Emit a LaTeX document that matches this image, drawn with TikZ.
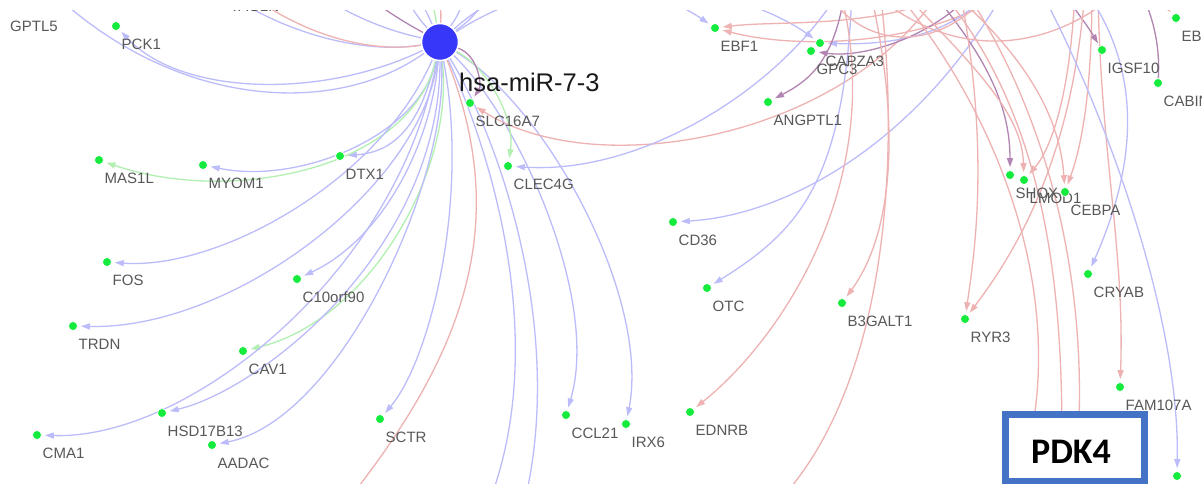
\documentclass[tikz,border=0pt]{standalone}
\usepackage{fontspec}
\setmainfont{Liberation Sans}
\newfontfamily\calfont{Carlito}
\usetikzlibrary{arrows.meta}
\definecolor{dotgreen}{RGB}{20,235,60}
\definecolor{hubblue}{RGB}{55,55,250}
\definecolor{eblue}{RGB}{188,188,250}
\definecolor{ered}{RGB}{238,178,178}
\definecolor{egreen}{RGB}{178,240,178}
\definecolor{epurple}{RGB}{178,132,178}
\definecolor{labgray}{RGB}{88,88,88}
\definecolor{boxblue}{RGB}{68,114,196}
\pgfdeclarelayer{edges}
\pgfsetlayers{edges,main}
% gene: name, x, y, printed label
\newcommand\gene[4]{%
  \node[gdot] (#1) at (#2,#3) {};
  \node[glab] (#1-l) at (#2+5.5,#3+18.5) {#4};}
\begin{document}
\begin{tikzpicture}[x=1pt,y=-1pt,
  gdot/.style={circle,fill=dotgreen,draw=white,line width=0.7pt,inner sep=0pt,minimum size=9pt},
  glab/.style={anchor=west,inner sep=0pt,text=labgray,font=\fontsize{15}{15}\selectfont},
  hubnode/.style={circle,fill=hubblue,draw=white,line width=1.5pt,inner sep=0pt,minimum size=37pt},
  ebase/.style={line width=1.3pt,shorten >=3pt,-{Triangle[length=9pt,width=6pt]}},
  be/.style={ebase,draw=eblue},
  re/.style={ebase,draw=ered},
  ge/.style={ebase,draw=egreen},
  pe/.style={ebase,draw=epurple},
  bl/.style={line width=1.3pt,draw=eblue},
  rl/.style={line width=1.3pt,draw=ered},
  gl/.style={line width=1.3pt,draw=egreen},
  pl/.style={line width=1.3pt,draw=epurple}]
\useasboundingbox (0,0) rectangle (1202,483);
\clip (0,10) rectangle (1202,483);

% hub and its label
\node[hubnode] (hub) at (440,42) {};
\node[anchor=west,inner sep=0pt,font=\fontsize{25.5}{25.5}\selectfont,text=black!90] (hub-l) at (459,82) {hsa-miR-7-3};

% genes
\node[glab] (gptl5-l) at (10,26) {GPTL5};
\node[glab] (tagln-l) at (230,6) {TAGLN};
\gene{pck1}{116}{26}{PCK1}
\gene{slc16a7}{470}{103}{SLC16A7}
\gene{clec4g}{508}{166}{CLEC4G}
\gene{dtx1}{340}{156}{DTX1}
\gene{myom1}{203}{165}{MYOM1}
\gene{mas1l}{99}{160}{MAS1L}
\gene{fos}{107}{262}{FOS}
\gene{c10orf90}{297}{279}{C10orf90}
\gene{trdn}{73}{326}{TRDN}
\gene{cav1}{243}{351}{CAV1}
\gene{hsd17b13}{162}{413}{HSD17B13}
\gene{cma1}{37}{435}{CMA1}
\gene{aadac}{212}{445}{AADAC}
\gene{sctr}{380}{419}{SCTR}
\gene{ccl21}{566}{415}{CCL21}
\gene{irx6}{626}{424}{IRX6}
\gene{ednrb}{690}{412}{EDNRB}
\gene{cd36}{673}{222}{CD36}
\gene{otc}{707}{288}{OTC}
\gene{ebf1}{715}{28}{EBF1}
\gene{capza3}{820}{43}{CAPZA3}
\gene{gpc3}{811}{51}{GPC3}
\gene{angptl1}{768}{102}{ANGPTL1}
\gene{b3galt1}{842}{303}{B3GALT1}
\gene{ryr3}{965}{319}{RYR3}
\gene{shox}{1010}{175}{SHOX}
\gene{lmod1}{1024}{180}{LMOD1}
\gene{cebpa}{1065}{192}{CEBPA}
\gene{igsf10}{1102}{50}{IGSF10}
\gene{cabin1}{1158}{83}{CABIN1}
\gene{ebx}{1176}{18}{EBF3}
\gene{cryab}{1088}{274}{CRYAB}
\gene{fam107a}{1120}{387}{FAM107A}
\node[gdot] (brdot) at (1177,476) {};

% free ends of connectors that leave the frame
\coordinate (o1) at (50,-10);   \coordinate (o2) at (230,-5);
\coordinate (o3) at (320,-5);   \coordinate (o4) at (250,-5);
\coordinate (o5) at (360,-10);  \coordinate (o6) at (400,-10);
\coordinate (o7) at (415,-10);  \coordinate (o8) at (430,-10);
\coordinate (o9) at (440,-10);  \coordinate (o10) at (468,-10);
\coordinate (o11) at (495,-10); \coordinate (o12) at (525,500);
\coordinate (o13) at (490,500); \coordinate (o14) at (340,510);
\coordinate (o15) at (940,-10); \coordinate (o16) at (840,-10);
\coordinate (o17) at (1005,-10);\coordinate (o18) at (852,-10);
\coordinate (o19) at (960,-10); \coordinate (o20) at (1010,-10);
\coordinate (o21) at (990,-10); \coordinate (o22) at (975,-10);
\coordinate (o23) at (845,-10); \coordinate (o24) at (930,-10);
\coordinate (o25) at (900,-10); \coordinate (o26) at (1075,-10);
\coordinate (o27) at (950,-10); \coordinate (o28) at (1092,-10);
\coordinate (o29) at (1060,-10);\coordinate (o30) at (1140,-10);
\coordinate (o31) at (1150,-10);\coordinate (o32) at (1098,-10);
\coordinate (o33) at (960,-10); \coordinate (o34) at (1085,-10);
\coordinate (o35) at (870,-10); \coordinate (o36) at (840,-10);
\coordinate (o37) at (880,-10); \coordinate (o38) at (780,500);
\coordinate (o39) at (895,-10); \coordinate (o40) at (1030,440);
\coordinate (o41) at (940,-10); \coordinate (o42) at (1062,440);
\coordinate (o43) at (965,-10); \coordinate (o44) at (1078,440);
\coordinate (o45) at (1085,-10);\coordinate (o46) at (1040,-10);
\coordinate (o47) at (825,-10); \coordinate (o48) at (990,-10);
\coordinate (o49) at (870,-10); \coordinate (o50) at (1120,-10);

\begin{pgfonlayer}{edges}
\fill[white] (0,0) rectangle (1202,483);
\clip (0,10) rectangle (1202,483);
% edges of the hub
\draw[be] (hub) .. controls (320,100) and (180,95) .. (pck1);
\draw[bl] (hub) .. controls (330,120) and (170,105) .. (o1);
\draw[bl] (hub) .. controls (360,55) and (280,30) .. (o2);
\draw[bl] (hub) .. controls (385,30) and (350,15) .. (o3);
\draw[rl] (hub) .. controls (380,52) and (315,42) .. (o4);
\draw[pl] (hub) .. controls (415,28) and (385,12) .. (o5);
\draw[bl] (hub) .. controls (420,20) .. (o6);
\draw[bl] (hub) .. controls (428,15) .. (o7);
\draw[gl] (hub) .. controls (435,15) .. (o8);
\draw[rl] (hub) .. controls (441,15) .. (o9);
\draw[bl] (hub) .. controls (458,15) .. (o10);
\draw[bl] (hub) .. controls (470,20) .. (o11);
\draw[be] (hub) .. controls (420,125) and (395,152) .. (dtx1);
\draw[be] (hub) .. controls (420,135) and (300,185) .. (myom1);
\draw[ge] (hub) .. controls (410,170) and (230,205) .. (mas1l);
\draw[be] (hub) .. controls (380,180) and (220,270) .. (fos);
\draw[be] (hub) .. controls (430,150) and (380,240) .. (c10orf90);
\draw[be] (hub) .. controls (420,190) and (230,330) .. (trdn);
\draw[ge] (hub) .. controls (455,170) and (370,320) .. (cav1);
\draw[be] (hub) .. controls (440,250) and (260,390) .. (hsd17b13);
\draw[be] (hub) .. controls (400,270) and (190,440) .. (cma1);
\draw[be] (hub) .. controls (450,180) and (340,420) .. (aadac);
\draw[be] (hub) .. controls (470,200) and (430,360) .. (sctr);
\draw[be] (hub) .. controls (520,120) and (600,300) .. (ccl21);
\draw[be] (hub) .. controls (550,110) and (650,300) .. (irx6);
\draw[bl] (hub) .. controls (500,140) and (565,330) .. (o12);
\draw[bl] (hub) .. controls (490,150) and (550,340) .. (o13);
\draw[ge] (hub) .. controls (490,70) and (515,120) .. (clec4g);
\draw[pe] (hub) .. controls (478,55) and (482,85) .. (slc16a7);
\draw[rl] (hub) .. controls (510,220) and (470,350) .. (o14);
\draw[be] (hub) .. controls (540,-50) and (660,-10) .. (ebf1);
\draw[be] (hub) .. controls (600,-60) and (760,0) .. (capza3);
% edges entering from above
\draw[re] (o15) .. controls (850,135) and (600,185) .. (slc16a7);
\draw[be] (o16) .. controls (780,90) and (640,175) .. (clec4g);
\draw[be] (o17) .. controls (920,140) and (790,215) .. (cd36);
\draw[be] (o18) .. controls (845,180) and (800,230) .. (otc);
\draw[re] (o19) .. controls (880,30) and (780,20) .. (ebf1);
\draw[re] (o20) .. controls (920,50) and (790,48) .. (ebf1);
\draw[be] (o21) .. controls (950,40) and (880,45) .. (capza3);
\draw[pe] (o22) .. controls (930,40) and (860,58) .. (gpc3);
\draw[pe] (o23) .. controls (835,60) and (810,80) .. (angptl1);
\draw[pe] (o24) .. controls (990,60) and (1010,110) .. (shox);
\draw[re] (o25) .. controls (990,80) and (1022,120) .. (lmod1);
\draw[re] (o26) .. controls (1070,100) and (1050,150) .. (lmod1);
\draw[re] (o27) .. controls (1030,60) and (1060,120) .. (cebpa);
\draw[re] (o28) .. controls (1092,100) and (1080,150) .. (cebpa);
\draw[pe] (o29) .. controls (1080,15) and (1090,30) .. (igsf10);
\draw[pl] (o30) .. controls (1155,20) and (1160,50) .. (cabin1);
\draw[re] (o31) .. controls (1160,0) .. (ebx);
\draw[re] (o32) .. controls (1100,150) and (1125,250) .. (fam107a);
\draw[re] (o33) .. controls (990,150) and (975,250) .. (ryr3);
\draw[re] (o34) .. controls (1075,120) and (1040,220) .. (ryr3);
\draw[re] (o35) .. controls (900,120) and (895,230) .. (b3galt1);
\draw[re] (o36) .. controls (890,180) and (780,340) .. (ednrb);
\draw[rl] (o37) .. controls (900,150) and (890,380) .. (o38);
\draw[rl] (o39) .. controls (1010,130) and (1060,300) .. (o40);
\draw[rl] (o41) .. controls (1050,120) and (1062,300) .. (o42);
\draw[rl] (o43) .. controls (1070,150) and (1085,330) .. (o44);
\draw[rl] (o47) .. controls (870,60) and (950,45) .. (o48);
\draw[rl] (o49) .. controls (960,70) and (1060,45) .. (o50);
\draw[be] (o45) .. controls (1150,80) and (1130,180) .. (cryab);
\draw[be] (o46) .. controls (1090,80) and (1180,300) .. (brdot);
\end{pgfonlayer}

% highlighted gene
\node[draw=boxblue,line width=7pt,fill=white,inner sep=0pt,minimum width=139pt,minimum height=67pt] (pdk) at (1075,447.5) {};
\node[inner sep=0pt,font=\calfont\bfseries\fontsize{36}{36}\selectfont] (pdk-t) at (1071,452) {PDK4};
\end{tikzpicture}
\end{document}
